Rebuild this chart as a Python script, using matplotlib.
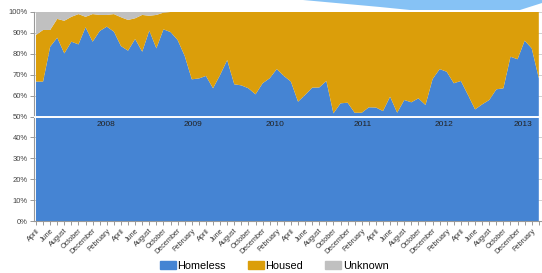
import numpy as np
import matplotlib
matplotlib.use("Agg")
import matplotlib.pyplot as plt
from matplotlib.patches import Polygon

plt.rcParams['font.family'] = ['Liberation Sans', 'DejaVu Sans']

# monthly shares, April 2007 .. March 2013 (percent)
homeless = [66.7, 66.7, 83.4, 87.7, 80.2, 85.8, 84.5, 92.7, 85.8, 90.9, 93.0, 90.6,
            83.7, 81.5, 87.1, 81.0, 91.1, 82.6, 91.7, 90.4, 86.6, 79.0, 67.8, 68.2,
            69.4, 63.5, 69.9, 77.0, 65.4, 64.9, 63.5, 60.6, 65.9, 68.3, 72.7, 69.4,
            66.7, 57.1, 60.3, 63.8, 63.9, 67.0, 51.5, 56.3, 56.6, 51.8, 51.8, 54.4,
            54.3, 52.6, 59.5, 51.8, 57.9, 56.8, 58.7, 55.5, 67.9, 72.7, 71.4, 65.9,
            67.0, 60.3, 53.4, 55.8, 57.9, 63.0, 63.5, 78.6, 77.4, 86.3, 82.6, 68.3]
unknown = [11.0, 8.6, 8.6, 3.3, 4.2, 2.3, 1.0, 2.3, 1.0, 1.4, 1.4, 1.0,
           2.5, 3.8, 3.0, 1.4, 1.8, 1.4, 0.3] + [0.0] * 53
housed = [100 - h - u for h, u in zip(homeless, unknown)]

month_names = ['April', 'June', 'August', 'October', 'December', 'February']
years = ['2008', '2009', '2010', '2011', '2012', '2013']
year_pos = [9.9, 22.2, 33.8, 46.1, 57.6, 68.8]

blue = '#4584d3'
orange = '#db9e0a'
grey = '#c0c0c0'

fig = plt.figure(figsize=(5.42, 2.73), dpi=100)

# decorative light-blue shape at the top of the screenshot
deco = Polygon([(303, 273), (380, 266), (410, 263), (520, 263), (542, 270), (542, 273)],
               closed=True, transform=None, facecolor='#86c2f5', edgecolor='none')
fig.patches.append(deco)

ax = fig.add_axes([34 / 542, 1 - 221 / 273, 508 / 542, 209 / 273])

x = np.arange(len(homeless))
ax.stackplot(x, homeless, housed, unknown, colors=[blue, orange, grey],
             linewidth=0, zorder=2)
ax.axhline(50, color='white', lw=1.4, zorder=3)

for yr, p in zip(years, year_pos):
    ax.text(p, 46.4, yr, ha='center', va='center', fontsize=6, color='#222222', zorder=4)

ax.set_xlim(-0.28, 71.45)
ax.set_ylim(0, 100)

ax.set_yticks(np.arange(0, 101, 10))
ax.set_yticklabels([f'{v}%' for v in range(0, 101, 10)], fontsize=5.5, color='#444444')
ax.yaxis.grid(True, color='#d0d0d0', lw=0.7, zorder=0)
ax.set_axisbelow(True)

labels = []
for i in x:
    labels.append(month_names[(i // 2) % 6] if i % 2 == 0 else '')
ax.set_xticks(x)
ax.set_xticklabels(labels, rotation=45, ha='right', rotation_mode='anchor',
                   fontsize=5.2, color='#333333')

ax.tick_params(axis='both', length=3, width=0.7, color='#999999', pad=1.5)
for s in ['top', 'right']:
    ax.spines[s].set_visible(False)
for s in ['left', 'bottom']:
    ax.spines[s].set_color('#999999')
    ax.spines[s].set_linewidth(0.8)

handles = [plt.Rectangle((0, 0), 1, 1, color=c) for c in [blue, orange, grey]]
fig.legend(handles, ['Homeless', 'Housed', 'Unknown'], loc='center',
           bbox_to_anchor=(274 / 542, 7 / 273), ncol=3, frameon=False, fontsize=7.8,
           handlelength=1.5, handleheight=0.7, handletextpad=0.15, columnspacing=2.0,
           borderpad=0.1)

fig.savefig('out.png', dpi=100)
